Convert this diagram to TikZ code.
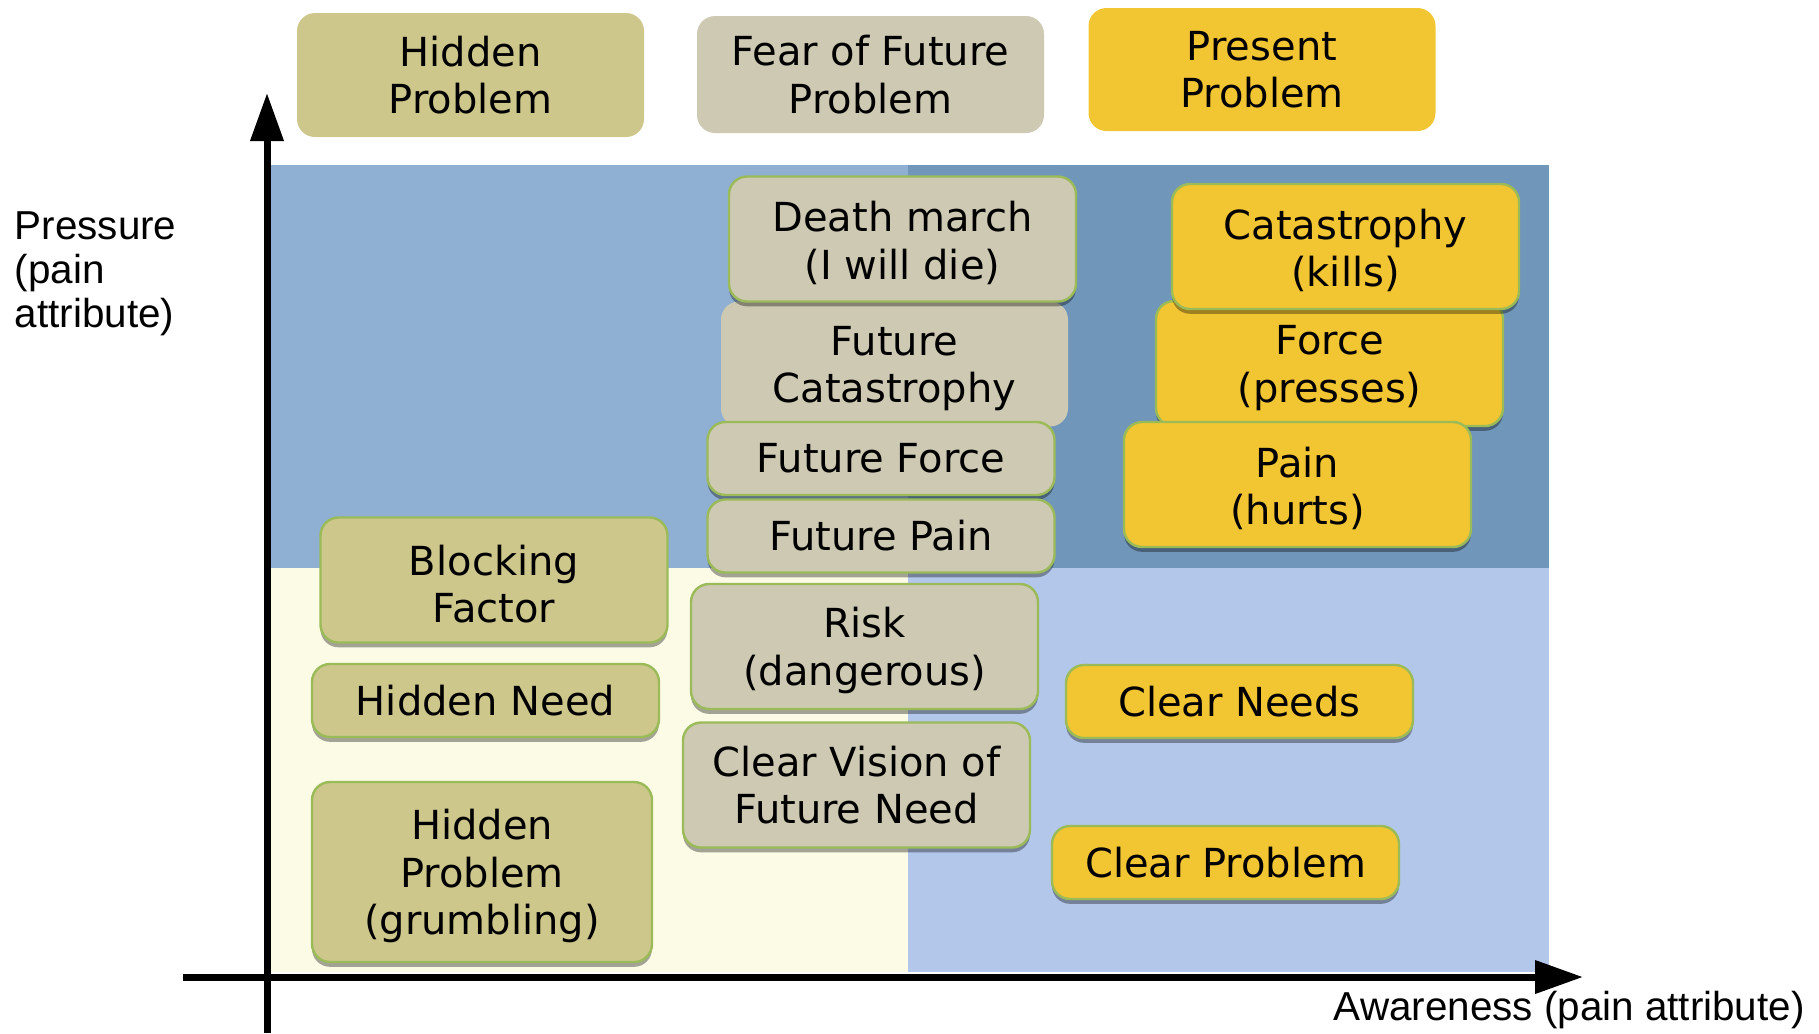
\documentclass[tikz,border=0pt]{standalone}
\usepackage{fontspec}
\usepackage{tikz}
\usetikzlibrary{arrows.meta,shadows}
\setmainfont{DejaVu Sans}
\newfontfamily\axisfont{Liberation Sans}

\definecolor{bgSky}{HTML}{8FAFD3}
\definecolor{bgSteel}{HTML}{7096BA}
\definecolor{bgCream}{HTML}{FBFBE6}
\definecolor{bgPale}{HTML}{B3C7EA}
\definecolor{boxOlive}{HTML}{CDC78C}
\definecolor{boxBeige}{HTML}{CDC9B2}
\definecolor{boxGold}{HTML}{F2C632}
\definecolor{edgeGreen}{HTML}{9BBB59}

% pushes the first line of a box a little down
\newcommand{\boxstrut}{\rule{0pt}{9.6pt}}

\tikzset{
  box/.style={rounded corners=4.5pt, minimum width=86.75pt, align=center,
    inner sep=1pt, font=\fontsize{10}{11.9}\selectfont},
  onerow/.style={minimum height=18.25pt},
  tworow/.style={minimum height=31.25pt},
  olivebox/.style={box, fill=boxOlive},
  beigebox/.style={box, fill=boxBeige},
  goldbox/.style={box, fill=boxGold},
  framed/.style={draw=edgeGreen, line width=0.6pt,
    drop shadow={shadow xshift=0pt, shadow yshift=-1.2pt, opacity=0.35, fill=black}},
  axis/.style={line width=1.75pt, -{Triangle[length=12pt,width=8pt]}},
  axislabel/.style={inner sep=0pt, align=left, font=\axisfont\fontsize{10.1}{11}\selectfont}
}

\begin{document}
\begin{tikzpicture}[x=0.25pt,y=-0.25pt]
            \useasboundingbox (0,0) rectangle (1819,1033);

            % quadrants
            \fill[bgSky] (270,165) rectangle (908,568);
            \fill[bgSteel] (908,165) rectangle (1549,568);
            \fill[bgCream] (270,568) rectangle (908,972);
            \fill[bgPale] (908,568) rectangle (1549,972);

            % y axis
            \draw[axis] (267,1033) -- (267,93);
            % x axis
            \draw[axis] (183,977) -- (1583,977);

            \node[axislabel, anchor=north west] (ylabel) at (14,211) {Pressure\\(pain\\attribute)};
            \node[axislabel, anchor=base west] (xlabel) at (1333,1020) {Awareness (pain attribute)};

            % column heads
            \node[olivebox, minimum height=31pt] (hidTop) at (470.5,75) {Hidden\\Problem};
            \node[beigebox, minimum height=29.25pt] (fearTop) at (870.5,74.5) {Fear of Future\\Problem};
            \node[goldbox, minimum height=30.75pt] (presTop) at (1262,69.5) {Present\\Problem};

            % future column
            \node[beigebox, tworow] (futCat) at (894.5,364) {\boxstrut Future\\Catastrophy};
            \node[beigebox, tworow, framed] (death) at (902.5,239) {\boxstrut Death march\\(I will die)};
            \node[beigebox, onerow, framed] (futForce) at (881,458.5) {Future Force};
            \node[beigebox, onerow, framed] (futPain) at (881,536) {Future Pain};
            \node[beigebox, tworow, framed] (risk) at (864.5,646.5) {\boxstrut Risk\\(dangerous)};
            \node[beigebox, tworow, framed] (vision) at (856.5,785) {Clear Vision of\\Future Need};

            % present column
            \node[goldbox, tworow, framed] (force) at (1329.5,363.5) {\boxstrut Force\\(presses)};
            \node[goldbox, tworow, framed] (catas) at (1345.5,246.5) {\boxstrut Catastrophy\\(kills)};
            \node[goldbox, tworow, framed] (pain) at (1297.5,484.5) {\boxstrut Pain\\(hurts)};
            \node[goldbox, onerow, framed] (needs) at (1239.5,701.5) {Clear Needs};
            \node[goldbox, onerow, framed] (clProb) at (1225.5,862.5) {Clear Problem};

            % hidden column
            \node[olivebox, tworow, framed] (block) at (494,580) {\boxstrut Blocking\\Factor};
            \node[olivebox, onerow, framed] (hidNeed) at (485.5,700.5) {Hidden Need};
            \node[olivebox, framed, minimum width=85pt, minimum height=45pt] (hidProb) at (482,872) {\boxstrut Hidden\\Problem\\(grumbling)};
        \end{tikzpicture}
\end{document}
